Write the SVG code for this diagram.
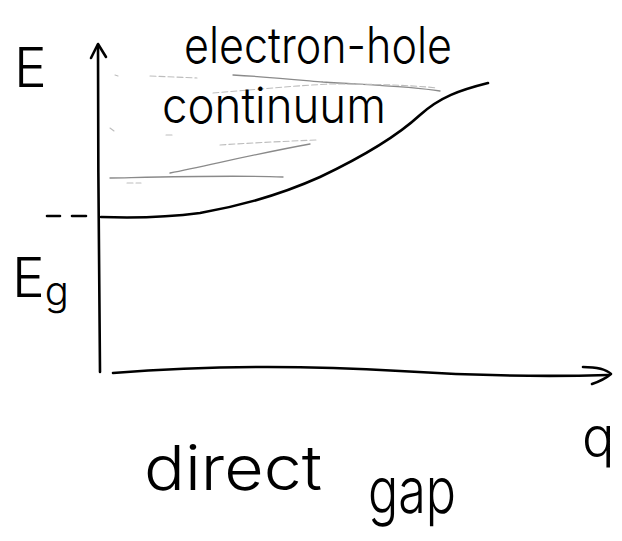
<svg xmlns="http://www.w3.org/2000/svg" width="622" height="541" viewBox="0 0 622 541">
<style>
.ink{fill:none;stroke:#000;stroke-width:2.6;stroke-linecap:round;stroke-linejoin:round}
.hatch{fill:none;stroke:#8a8a8a;stroke-width:1.3;stroke-linecap:round}
.hatch2{fill:none;stroke:#bdbdbd;stroke-width:1.1;stroke-linecap:round;stroke-dasharray:6 3}
.lbl{font-family:"Inter","Roboto","Liberation Sans",sans-serif;font-weight:300;fill:#000}
</style>
<rect width="622" height="541" fill="#fff"/>
<g id="axes">
<path class="ink" d="M100,372 C99,300 98,150 98,45"/>
<path class="ink" d="M91,58 L98,44 L106,57"/>
<path class="ink" d="M113,373 C200,366 300,365 400,371 C480,376 540,377 608,375"/>
<path class="ink" d="M583,367 C596,367 606,369 611,374 C605,379 598,382 592,384"/>
<path class="ink" d="M47,216 L60,216 M72,216 L86,216"/>
</g>
<g id="hatching">
<path class="hatch2" d="M115,75 L118,76 M150,76 L197,78"/>
<path class="hatch" d="M233,75 C270,77 300,80 323,82 C370,85 410,86 440,91"/>
<path class="hatch2" d="M213,93 C250,90 290,86 330,84 C370,84 410,85 437,88"/>
<path class="hatch2" d="M110,128 L114,131 M166,135 L172,135"/>
<path class="hatch2" d="M220,145 C250,143 290,141 318,140"/>
<path class="hatch" d="M170,173 C210,165 260,153 310,144"/>
<path class="hatch" d="M110,178 C160,177 230,175 283,177"/>
<path class="hatch2" d="M127,183 L141,183"/>
</g>
<g id="curve">
<path class="ink" d="M101,217 C130,218 170,217 200,213 C240,206 280,195 320,177 C360,158 395,138 420,115 C440,97 460,90 488,83"/>
</g>
<g id="labels">
<text class="lbl" x="14" y="87" font-size="55">E</text>
<text class="lbl" x="184" y="63" font-size="50" textLength="268" lengthAdjust="spacingAndGlyphs">electron-hole</text>
<text class="lbl" x="162" y="123" font-size="50" textLength="224" lengthAdjust="spacingAndGlyphs">continuum</text>
<text class="lbl" x="12" y="297" font-size="55">E<tspan font-size="40" dy="8">g</tspan></text>
<text class="lbl" x="582" y="456" font-size="54">q</text>
<text class="lbl" x="144" y="490" font-size="62" textLength="178" lengthAdjust="spacingAndGlyphs">direct</text>
<text class="lbl" x="368" y="513" font-size="64" textLength="88" lengthAdjust="spacingAndGlyphs">gap</text>
</g>
</svg>
